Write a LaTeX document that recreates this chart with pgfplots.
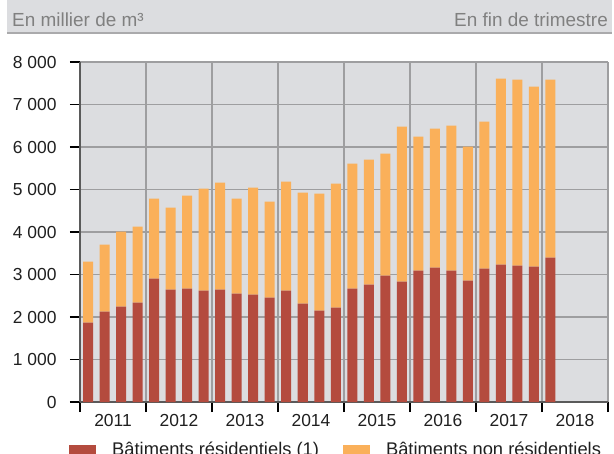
\documentclass[border=0pt]{standalone}
\usepackage{pgfplots}
\pgfplotsset{compat=1.18}
\usepackage{pgfplotstable}
\usepackage{fontspec}
\setmainfont{Liberation Sans}
\definecolor{resid}{RGB}{180,75,62}
\definecolor{nonres}{RGB}{250,176,90}
\definecolor{bggray}{RGB}{220,221,224}
\definecolor{gridgray}{RGB}{158,158,160}
\definecolor{hdrtext}{RGB}{128,128,128}
\definecolor{hdrline}{RGB}{170,170,172}
\definecolor{axisgray}{RGB}{90,90,90}

\pgfplotstableread{
x res nonres
0 1867 1435
1 2125 1577
2 2243 1765
3 2337 1788
4 2902 1882
5 2643 1930
6 2667 2188
7 2620 2400
8 2643 2518
9 2549 2235
10 2525 2518
11 2455 2259
12 2620 2564
13 2314 2611
14 2149 2753
15 2220 2917
16 2667 2941
17 2761 2941
18 2973 2870
19 2831 3647
20 3090 3153
21 3161 3270
22 3090 3412
23 2855 3153
24 3137 3459
25 3231 4377
26 3208 4376
27 3184 4236
28 3396 4188
}\data

\begin{document}
\begin{tikzpicture}
\useasboundingbox (-80bp,-52bp) rectangle (534bp,402bp);
\clip (-80bp,-52bp) rectangle (534bp,402bp);
\fill[bggray] (-73bp,402bp) rectangle (532bp,369bp);
\draw[hdrline, line width=1.3bp] (-73bp,369bp) -- (532bp,369bp);
\node[anchor=base west, inner sep=0pt, text=hdrtext, font=\fontsize{19}{22}\selectfont] at (-68bp,375bp) {En millier de m³};
\node[anchor=base east, inner sep=0pt, text=hdrtext, font=\fontsize{19}{22}\selectfont] at (528bp,375bp) {En fin de trimestre};
\begin{axis}[
  at={(0bp,0bp)}, anchor=south west,
  scale only axis, width=528bp, height=340bp,
  xmin=-0.5, xmax=31.5, ymin=0, ymax=8000,
  ybar stacked, bar width=10bp,
  axis background/.style={fill=bggray},
  axis x line*=bottom, axis y line*=left,
  axis line style={axisgray, line width=1.2bp},
  ytick={0,1000,2000,3000,4000,5000,6000,7000,8000},
  yticklabels={0,1 000,2 000,3 000,4 000,5 000,6 000,7 000,8 000},
  ymajorgrids, xmajorgrids,
  grid style={gridgray, line width=1.2bp},
  xtick={-0.5,3.5,7.5,11.5,15.5,19.5,23.5,27.5,31.5},
  x tick label as interval,
  xticklabels={2011,2012,2013,2014,2015,2016,2017,2018},
  tick align=outside,
  major tick length=10bp,
  tick style={black, line width=1.2bp},
  ticklabel style={font=\fontsize{17.5}{20}\selectfont, text=black!88},
  yticklabel style={xshift=-10bp},
  xticklabel style={yshift=1bp},
  legend columns=2,
  legend style={at={(-0.0208,-0.1165)}, anchor=north west, draw=none, fill=none,
    inner sep=0pt, font=\fontsize{18.4}{21}\selectfont, text=black!88,
    nodes={inner sep=0pt},
    /tikz/every odd column/.append style={column sep=16bp},
    /tikz/every even column/.append style={column sep=24bp}},
  legend image code/.code={\fill[#1] (0bp,-13bp) rectangle (27bp,4.2bp);},
]
\addplot[fill=resid, draw=none] table[x=x, y=res] {\data};
\addlegendentry{Bâtiments résidentiels (1)}
\addplot[fill=nonres, draw=none] table[x=x, y=nonres] {\data};
\addlegendentry{Bâtiments non résidentiels}
\end{axis}
\end{tikzpicture}
\end{document}
